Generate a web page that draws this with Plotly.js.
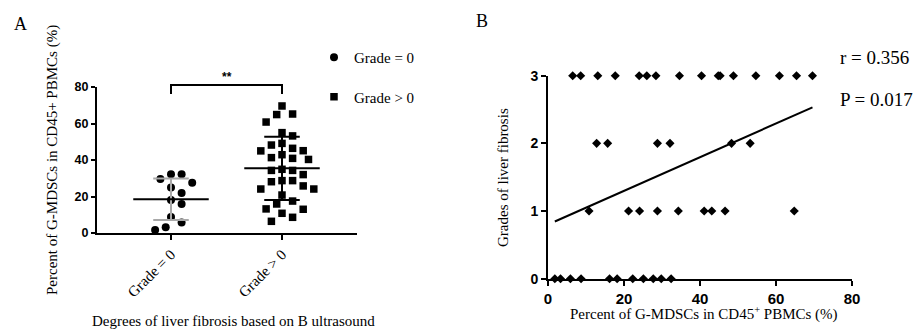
<!DOCTYPE html>
<html>
<head>
<meta charset="utf-8">
<script src="https://cdn.plot.ly/plotly-3.0.1.min.js"></script>
<style>html,body{margin:0;padding:0;background:#fff;}#chart{width:916px;height:331px;}</style>
</head>
<body>
<div id="chart"></div>
<script>
// ---------- Panel A data ----------
const groupNames = ["Grade = 0", "Grade > 0"];
const grade0Values = [32.2, 32.2, 29.6, 27.6, 25.0, 21.9, 18.1, 15.9, 8.8, 5.7, 3.1, 1.6];
const gradeAbove0Values = [69.6, 65.2, 64.9, 60.8, 55.0, 53.2, 49.1, 48.2, 46.4, 45.1, 45.0, 42.9,
  40.9, 40.3, 41.3, 34.9, 34.3, 34.3, 32.0, 28.7, 28.1, 28.7, 25.8, 24.1, 24.1, 20.8, 17.5,
  15.9, 13.2, 13.0, 10.8, 8.6, 6.4];
const yTicksA = [0, 20, 40, 60, 80];

// ---------- Panel B data ----------
const pctGMDSC = [6.5, 8.6, 13.1, 17.7, 24.0, 26.0, 28.4, 34.6, 40.4, 44.8, 45.3, 48.8, 54.7, 60.9, 65.4, 69.6,
  12.8, 15.7, 28.8, 32.1, 48.3, 53.2,
  10.8, 21.2, 24.1, 28.8, 34.3, 41.1, 43.1, 46.6, 64.8,
  1.8, 3.3, 5.9, 8.7, 16.2, 18.2, 22.3, 25.1, 27.7, 29.8, 32.4];
const fibrosisGrade = [3, 3, 3, 3, 3, 3, 3, 3, 3, 3, 3, 3, 3, 3, 3, 3,
  2, 2, 2, 2, 2, 2,
  1, 1, 1, 1, 1, 1, 1, 1, 1,
  0, 0, 0, 0, 0, 0, 0, 0, 0, 0, 0];
const fitIntercept = 0.80;
const fitSlope = 0.0249;
const rText = "r = 0.356";
const pText = "P = 0.017";
const xTicksB = [0, 20, 40, 60, 80];
const yTicksB = [0, 1, 2, 3];

// ---------- helpers ----------
const W = 916, H = 331;
const serif = "Liberation Serif, Times New Roman, serif";
const sans = "Liberation Sans, Arial, sans-serif";
const px2x = v => v / W;
const px2y = v => 1 - v / H;

// Panel A pixel geometry (for swarm layout)
const aLeft = 97, aRight = 357, aTop = 87, aBottom = 233;
const catPx = 111; // pixels per category unit
const xRangeA = [-(171 - aLeft) / catPx, 1 + (aRight - 282) / catPx];
const pxPerY_A = (aBottom - aTop) / 80;

function swarm(vals, diam, step) {
  const order = vals.map((v, i) => i).sort((a, b) => vals[b] - vals[a]);
  const placed = [];
  const off = new Array(vals.length).fill(0);
  for (const i of order) {
    const y = vals[i] * pxPerY_A;
    for (let k = 0; k < 40; k++) {
      const cands = k === 0 ? [0] : [k * step, -k * step];
      let done = false;
      for (const c of cands) {
        const hit = placed.some(p => (p[0] - c) ** 2 + (p[1] - y) ** 2 < diam * diam);
        if (!hit) { off[i] = c; placed.push([c, y]); done = true; break; }
      }
      if (done) break;
    }
  }
  return off.map(o => o / catPx);
}
const mean = a => a.reduce((s, v) => s + v, 0) / a.length;
const sd = a => { const m = mean(a); return Math.sqrt(a.reduce((s, v) => s + (v - m) ** 2, 0) / (a.length - 1)); };

const off0 = swarm(grade0Values, 10.5, 5.3);
const off1 = swarm(gradeAbove0Values, 10, 5.3);

function statTraces(vals, pos, sdColor) {
  const m = mean(vals), s = sd(vals);
  const mw = 0.34, cw = 0.16;
  return [
    { x: [pos, pos, null, pos - cw, pos + cw, null, pos - cw, pos + cw],
      y: [m - s, m + s, null, m + s, m + s, null, m - s, m - s],
      mode: 'lines', line: { color: sdColor, width: 2 }, xaxis: 'x', yaxis: 'y',
      showlegend: false, hoverinfo: 'skip', connectgaps: false },
    { x: [pos - mw, pos + mw], y: [m, m], mode: 'lines', line: { color: '#000', width: 2 },
      xaxis: 'x', yaxis: 'y', showlegend: false, hoverinfo: 'skip' }
  ];
}

const xMin = Math.min(...pctGMDSC), xMax = Math.max(...pctGMDSC);

const traces = [
  { x: off0.map(o => 0 + o), y: grade0Values, mode: 'markers', name: groupNames[0],
    marker: { symbol: 'circle', size: 8, color: '#000' }, xaxis: 'x', yaxis: 'y',
    cliponaxis: false, legendgroup: 'g0' },
  { x: off1.map(o => 1 + o), y: gradeAbove0Values, mode: 'markers', name: groupNames[1],
    marker: { symbol: 'square', size: 7.5, color: '#000' }, xaxis: 'x', yaxis: 'y',
    cliponaxis: false, legendgroup: 'g1' },
  ...statTraces(grade0Values, 0, '#a8a8a8'),
  ...statTraces(gradeAbove0Values, 1, '#000'),
  { x: pctGMDSC, y: fibrosisGrade, mode: 'markers', marker: { symbol: 'diamond', size: 7, color: '#000' },
    xaxis: 'x2', yaxis: 'y2', cliponaxis: false, showlegend: false },
  { x: [xMin, xMax], y: [fitIntercept + fitSlope * xMin, fitIntercept + fitSlope * xMax], mode: 'lines',
    line: { color: '#000', width: 2 }, xaxis: 'x2', yaxis: 'y2', showlegend: false }
];

const axisCommon = {
  showgrid: false, zeroline: false, showline: true, linecolor: '#000', linewidth: 2,
  ticks: 'outside', ticklen: 5, tickwidth: 2, tickcolor: '#000', fixedrange: true
};

function note(text, xpx, ypx, size, extra) {
  return Object.assign({ text: text, xref: 'paper', yref: 'paper', x: px2x(xpx), y: px2y(ypx),
    xanchor: 'center', yanchor: 'middle', showarrow: false,
    font: { family: serif, size: size, color: '#000' } }, extra || {});
}

const layout = {
  width: W, height: H, margin: { l: 0, r: 0, t: 0, b: 0 },
  paper_bgcolor: '#fff', plot_bgcolor: 'rgba(0,0,0,0)',
  font: { family: serif, color: '#000' },
  showlegend: true,
  legend: { x: px2x(314), y: px2y(41), xanchor: 'left', yanchor: 'top',
    font: { family: serif, size: 15, color: '#000' }, bgcolor: 'rgba(0,0,0,0)',
    traceorder: 'grouped', tracegroupgap: 17 },
  xaxis: Object.assign({}, axisCommon, {
    domain: [px2x(aLeft), px2x(aRight)], range: xRangeA, anchor: 'y',
    tickvals: [0, 1], ticktext: groupNames, tickangle: -45,
    tickfont: { family: serif, size: 15, color: '#000' } }),
  yaxis: Object.assign({}, axisCommon, {
    domain: [px2y(aBottom), px2y(aTop)], range: [0, 80], anchor: 'x', tickvals: yTicksA, ticklen: 4,
    tickfont: { family: sans, size: 12.5, color: '#000', weight: 'bold' } }),
  xaxis2: Object.assign({}, axisCommon, {
    domain: [px2x(548), px2x(852)], range: [0, 80], anchor: 'y2', tickvals: xTicksB,
    tickfont: { family: sans, size: 15, color: '#000', weight: 'bold' } }),
  yaxis2: Object.assign({}, axisCommon, {
    domain: [px2y(278.7), px2y(75.7)], range: [0, 3], anchor: 'x2', tickvals: yTicksB,
    tickfont: { family: sans, size: 14, color: '#000', weight: 'bold' } }),
  shapes: [
    { type: 'path', xref: 'x', yref: 'paper',
      path: `M 0 ${px2y(94)} L 0 ${px2y(85)} L 1 ${px2y(85)} L 1 ${px2y(94)}`,
      line: { color: '#000', width: 2 } }
  ],
  annotations: [
    note('A', 20, 24, 18),
    note('B', 482, 21, 18),
    Object.assign(note('**', 0, 77, 12), { xref: 'x', x: 0.5, font: { family: sans, size: 12, weight: 'bold', color: '#000' } }),
    note('Percent of G-MDSCs in CD45+ PBMCs (%)', 52, 160, 15, { textangle: -90 }),
    note('Degrees of liver fibrosis based on B ultrasound', 90, 321, 15, { xanchor: 'left' }),
    note('Grades of liver fibrosis', 503, 178, 15, { textangle: -90 }),
    note('Percent of G-MDSCs in CD45<sup>+</sup> PBMCs (%)', 704, 313, 15),
    note(rText, 838, 58, 19, { xanchor: 'left' }),
    note(pText, 838, 100, 19, { xanchor: 'left' })
  ]
};

Plotly.newPlot('chart', traces, layout, { staticPlot: true, displayModeBar: false });
</script>
</body>
</html>
